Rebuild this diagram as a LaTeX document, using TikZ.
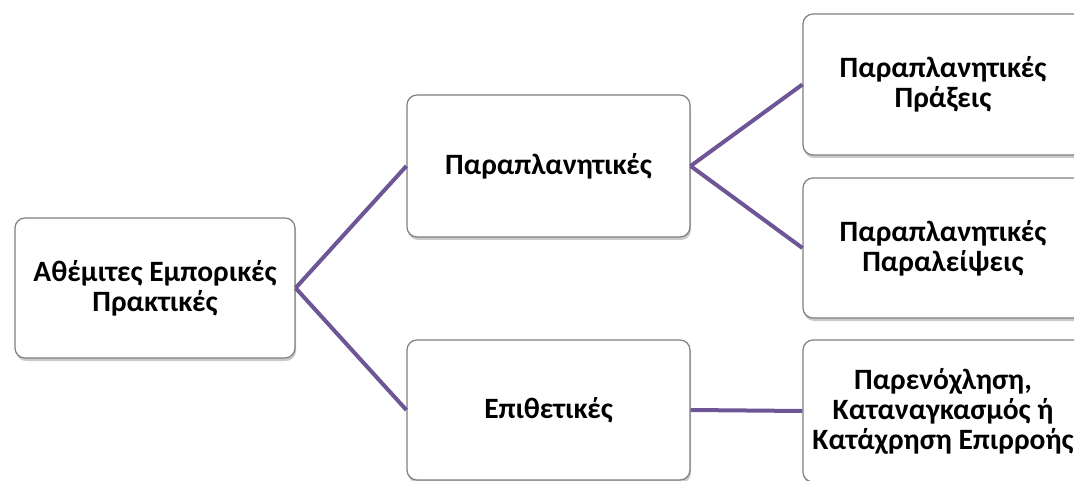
\documentclass[tikz,border=0pt]{standalone}
\usepackage{fontspec}
\setmainfont{Carlito}
\usetikzlibrary{shadows}
\definecolor{conn}{HTML}{6E5596}
\definecolor{bord}{HTML}{7F7F7F}
\tikzset{
  box/.style={draw=bord, line width=1.2pt, fill=white, rounded corners=10pt,
    minimum width=#1, align=center, inner sep=2pt, font=\bfseries\fontsize{29.5}{30}\selectfont,
    drop shadow={shadow xshift=1pt, shadow yshift=-3pt, opacity=0.35, fill=black!60}},
  box/.default=280pt,
  link/.style={draw=conn, line width=4pt}
}
\begin{document}
\begin{tikzpicture}[x=1pt,y=-1pt]
\useasboundingbox (0,0) rectangle (1074,481);
\begin{scope}
\clip (0,0) rectangle (1074,481);
\node[box=280pt, minimum height=140pt] (A) at (155,288) {Αθέμιτες Εμπορικές\\Πρακτικές};
\node[box=283pt, minimum height=142pt] (B) at (548.5,166) {Παραπλανητικές};
\node[box=283pt, minimum height=140pt] (C) at (548.5,410) {Επιθετικές};
\node[box=280pt, minimum height=141pt] (D) at (943,84.5) {Παραπλανητικές\\Πράξεις};
\node[box=280pt, minimum height=140pt] (E) at (943,248) {Παραπλανητικές\\Παραλείψεις};
\node[box=280pt, minimum height=142pt] (F) at (943,411) {Παρενόχληση,\\Καταναγκασμός ή\\Κατάχρηση Επιρροής};
\end{scope}
\draw[link] (A.east) -- (B.west);
\draw[link] (A.east) -- (C.west);
\draw[link] (B.east) -- (D.west);
\draw[link] (B.east) -- (E.west);
\draw[link] (C.east) -- (F.west);
\end{tikzpicture}
\end{document}
